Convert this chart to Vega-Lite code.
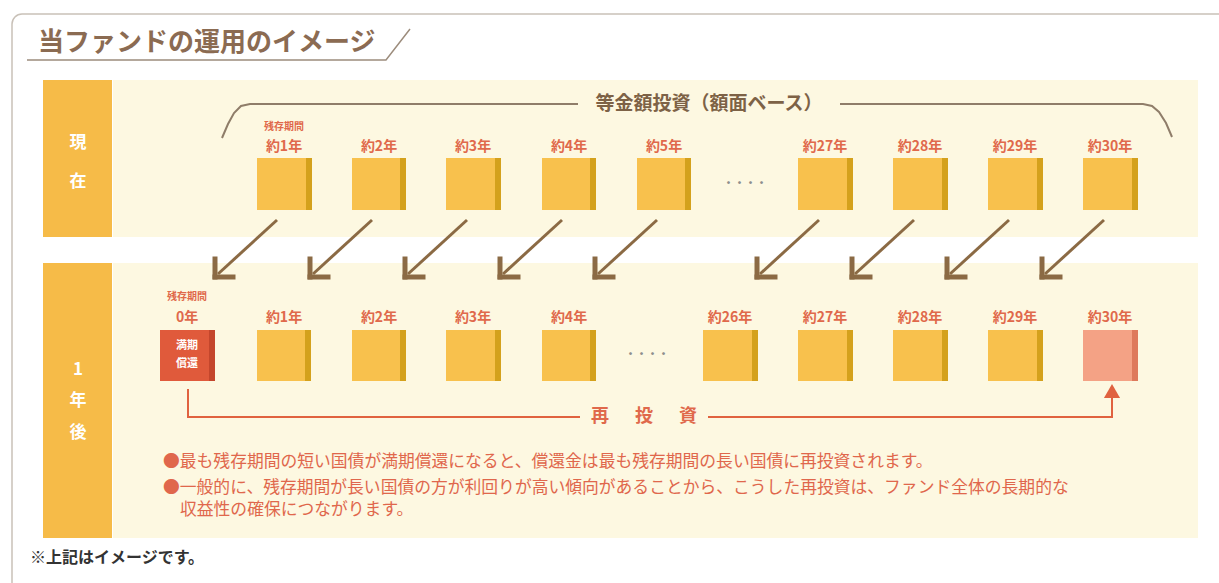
{
  "$schema": "https://vega.github.io/schema/vega-lite/v6.json",
  "width": 1219,
  "height": 583,
  "autosize": {"type": "fit", "contains": "padding"},
  "padding": 0,
  "background": "white",
  "config": {"view": {"stroke": null}, "text": {"font": "Noto Sans CJK JP"}},
  "datasets": {
    "frame": [{"x": 12, "y": 14, "x2": 1260, "y2": 620}],
    "bg": [{"x": 113, "y": 80, "x2": 1198, "y2": 237}, {"x": 113, "y": 263, "x2": 1198, "y2": 538}],
    "rowbox": [{"x": 43, "y": 80, "x2": 112, "y2": 237}, {"x": 43, "y": 263, "x2": 112, "y2": 538}],
    "rowText": [
      {"x": 78, "y": 143, "t": "現"}, {"x": 78, "y": 182, "t": "在"},
      {"x": 78, "y": 370, "t": "1"}, {"x": 78, "y": 401, "t": "年"}, {"x": 78, "y": 433, "t": "後"}
    ],
    "boxes": [
      {"row": "現在", "label": "約1年", "x": 257, "x2": 312, "cx": 284, "y": 158, "y2": 210, "ly": 147, "kind": "normal"},
      {"row": "現在", "label": "約2年", "x": 352, "x2": 406, "cx": 379, "y": 158, "y2": 210, "ly": 147, "kind": "normal"},
      {"row": "現在", "label": "約3年", "x": 446, "x2": 501, "cx": 473, "y": 158, "y2": 210, "ly": 147, "kind": "normal"},
      {"row": "現在", "label": "約4年", "x": 542, "x2": 596, "cx": 569, "y": 158, "y2": 210, "ly": 147, "kind": "normal"},
      {"row": "現在", "label": "約5年", "x": 637, "x2": 691, "cx": 664, "y": 158, "y2": 210, "ly": 147, "kind": "normal"},
      {"row": "現在", "label": "約27年", "x": 798, "x2": 853, "cx": 825, "y": 158, "y2": 210, "ly": 147, "kind": "normal"},
      {"row": "現在", "label": "約28年", "x": 893, "x2": 948, "cx": 920, "y": 158, "y2": 210, "ly": 147, "kind": "normal"},
      {"row": "現在", "label": "約29年", "x": 988, "x2": 1043, "cx": 1015, "y": 158, "y2": 210, "ly": 147, "kind": "normal"},
      {"row": "現在", "label": "約30年", "x": 1083, "x2": 1138, "cx": 1110, "y": 158, "y2": 210, "ly": 147, "kind": "normal"},
      {"row": "1年後", "label": "0年", "x": 160, "x2": 215, "cx": 187, "y": 330, "y2": 381, "ly": 318, "kind": "mature"},
      {"row": "1年後", "label": "約1年", "x": 257, "x2": 311, "cx": 284, "y": 330, "y2": 381, "ly": 318, "kind": "normal"},
      {"row": "1年後", "label": "約2年", "x": 352, "x2": 406, "cx": 379, "y": 330, "y2": 381, "ly": 318, "kind": "normal"},
      {"row": "1年後", "label": "約3年", "x": 446, "x2": 501, "cx": 473, "y": 330, "y2": 381, "ly": 318, "kind": "normal"},
      {"row": "1年後", "label": "約4年", "x": 542, "x2": 596, "cx": 569, "y": 330, "y2": 381, "ly": 318, "kind": "normal"},
      {"row": "1年後", "label": "約26年", "x": 703, "x2": 758, "cx": 730, "y": 330, "y2": 381, "ly": 318, "kind": "normal"},
      {"row": "1年後", "label": "約27年", "x": 798, "x2": 853, "cx": 825, "y": 330, "y2": 381, "ly": 318, "kind": "normal"},
      {"row": "1年後", "label": "約28年", "x": 893, "x2": 948, "cx": 920, "y": 330, "y2": 381, "ly": 318, "kind": "normal"},
      {"row": "1年後", "label": "約29年", "x": 988, "x2": 1043, "cx": 1015, "y": 330, "y2": 381, "ly": 318, "kind": "normal"},
      {"row": "1年後", "label": "約30年", "x": 1083, "x2": 1138, "cx": 1110, "y": 330, "y2": 381, "ly": 318, "kind": "new"}
    ],
    "smallLabels": [{"x": 284, "y": 127, "t": "残存期間"}, {"x": 187, "y": 297, "t": "残存期間"}],
    "boxText": [{"x": 187, "y": 346, "t": "満期"}, {"x": 187, "y": 364, "t": "償還"}],
    "dots": [{"x": 745, "y": 184, "t": "・・・・"}, {"x": 647, "y": 355, "t": "・・・・"}],
    "arrowShaft": [
      {"x": 277, "y": 220, "x2": 218, "y2": 274}, {"x": 372, "y": 220, "x2": 313, "y2": 274},
      {"x": 467, "y": 220, "x2": 408, "y2": 274}, {"x": 562, "y": 220, "x2": 503, "y2": 274},
      {"x": 657, "y": 220, "x2": 598, "y2": 274}, {"x": 819, "y": 220, "x2": 760, "y2": 274},
      {"x": 914, "y": 220, "x2": 855, "y2": 274}, {"x": 1009, "y": 220, "x2": 950, "y2": 274},
      {"x": 1104, "y": 220, "x2": 1045, "y2": 274}
    ],
    "arrowHead": [
      {"x": 215, "y": 277, "x2": 215, "y2": 259}, {"x": 215, "y": 277, "x2": 233, "y2": 277},
      {"x": 310, "y": 277, "x2": 310, "y2": 259}, {"x": 310, "y": 277, "x2": 328, "y2": 277},
      {"x": 405, "y": 277, "x2": 405, "y2": 259}, {"x": 405, "y": 277, "x2": 423, "y2": 277},
      {"x": 500, "y": 277, "x2": 500, "y2": 259}, {"x": 500, "y": 277, "x2": 518, "y2": 277},
      {"x": 595, "y": 277, "x2": 595, "y2": 259}, {"x": 595, "y": 277, "x2": 613, "y2": 277},
      {"x": 757, "y": 277, "x2": 757, "y2": 259}, {"x": 757, "y": 277, "x2": 775, "y2": 277},
      {"x": 852, "y": 277, "x2": 852, "y2": 259}, {"x": 852, "y": 277, "x2": 870, "y2": 277},
      {"x": 947, "y": 277, "x2": 947, "y2": 259}, {"x": 947, "y": 277, "x2": 965, "y2": 277},
      {"x": 1042, "y": 277, "x2": 1042, "y2": 259}, {"x": 1042, "y": 277, "x2": 1060, "y2": 277}
    ],
    "bracket": [
      {"seg": "L", "o": 1, "x": 222, "y": 138}, {"seg": "L", "o": 2, "x": 228, "y": 124},
      {"seg": "L", "o": 3, "x": 234, "y": 113}, {"seg": "L", "o": 4, "x": 241, "y": 106},
      {"seg": "L", "o": 5, "x": 250, "y": 104}, {"seg": "L", "o": 6, "x": 578, "y": 104},
      {"seg": "R", "o": 1, "x": 840, "y": 104}, {"seg": "R", "o": 2, "x": 1143, "y": 104},
      {"seg": "R", "o": 3, "x": 1152, "y": 106}, {"seg": "R", "o": 4, "x": 1159, "y": 112},
      {"seg": "R", "o": 5, "x": 1166, "y": 123}, {"seg": "R", "o": 6, "x": 1172, "y": 137}
    ],
    "bracketText": [{"x": 709, "y": 104, "t": "等金額投資（額面ベース）"}],
    "reinvest": [
      {"seg": "A", "o": 1, "x": 188, "y": 389}, {"seg": "A", "o": 2, "x": 188, "y": 417}, {"seg": "A", "o": 3, "x": 580, "y": 417},
      {"seg": "B", "o": 1, "x": 708, "y": 417}, {"seg": "B", "o": 2, "x": 1112, "y": 417}, {"seg": "B", "o": 3, "x": 1112, "y": 396}
    ],
    "reinvestHead": [{"x": 1112, "y": 391}],
    "reinvestText": [{"x": 600, "y": 417, "t": "再"}, {"x": 644, "y": 417, "t": "投"}, {"x": 688, "y": 417, "t": "資"}],
    "notes": [
      {"x": 163, "y": 462, "t": "●最も残存期間の短い国債が満期償還になると、償還金は最も残存期間の長い国債に再投資されます。"},
      {"x": 163, "y": 488, "t": "●一般的に、残存期間が長い国債の方が利回りが高い傾向があることから、こうした再投資は、ファンド全体の長期的な"},
      {"x": 180, "y": 510, "t": "収益性の確保につながります。"}
    ],
    "footnote": [{"x": 30, "y": 558, "t": "※上記はイメージです。"}],
    "title": [{"x": 38, "y": 43, "t": "当ファンドの運用のイメージ"}],
    "titleLine": [{"o": 1, "x": 27, "y": 60}, {"o": 2, "x": 386, "y": 60}, {"o": 3, "x": 410, "y": 29}]
  },
  "layer": [
    {
      "data": {"name": "frame"},
      "mark": {"type": "rect", "fill": null, "stroke": "#c9c1b8", "strokeWidth": 1.5, "cornerRadius": 10, "clip": true},
      "encoding": {
        "x": {"field": "x", "type": "quantitative", "scale": {"domain": [0, 1219], "nice": false, "zero": false}, "axis": null},
        "x2": {"field": "x2"},
        "y": {"field": "y", "type": "quantitative", "scale": {"domain": [0, 583], "nice": false, "zero": false, "reverse": true}, "axis": null},
        "y2": {"field": "y2"}
      }
    },
    {
      "data": {"name": "bg"},
      "mark": {"type": "rect", "fill": "#fdf8e1"},
      "encoding": {
        "x": {"field": "x", "type": "quantitative", "axis": null}, "x2": {"field": "x2"},
        "y": {"field": "y", "type": "quantitative", "axis": null}, "y2": {"field": "y2"}
      }
    },
    {
      "data": {"name": "rowbox"},
      "mark": {"type": "rect", "fill": "#f6bb48"},
      "encoding": {
        "x": {"field": "x", "type": "quantitative", "axis": null}, "x2": {"field": "x2"},
        "y": {"field": "y", "type": "quantitative", "axis": null}, "y2": {"field": "y2"}
      }
    },
    {
      "data": {"name": "rowText"},
      "mark": {"type": "text", "color": "white", "fontSize": 17, "fontWeight": "bold", "baseline": "middle", "align": "center"},
      "encoding": {
        "x": {"field": "x", "type": "quantitative", "axis": null},
        "y": {"field": "y", "type": "quantitative", "axis": null},
        "text": {"field": "t"}
      }
    },
    {
      "data": {"name": "titleLine"},
      "mark": {"type": "line", "color": "#9c8c7c", "strokeWidth": 1.5},
      "encoding": {
        "x": {"field": "x", "type": "quantitative", "axis": null},
        "y": {"field": "y", "type": "quantitative", "axis": null},
        "order": {"field": "o"}
      }
    },
    {
      "data": {"name": "title"},
      "mark": {"type": "text", "color": "#8b6b52", "fontSize": 26, "fontWeight": "bold", "baseline": "middle", "align": "left"},
      "encoding": {
        "x": {"field": "x", "type": "quantitative", "axis": null},
        "y": {"field": "y", "type": "quantitative", "axis": null},
        "text": {"field": "t"}
      }
    },
    {
      "data": {"name": "bracket"},
      "mark": {"type": "line", "color": "#8f7d69", "strokeWidth": 2},
      "encoding": {
        "x": {"field": "x", "type": "quantitative", "axis": null},
        "y": {"field": "y", "type": "quantitative", "axis": null},
        "detail": {"field": "seg"},
        "order": {"field": "o"}
      }
    },
    {
      "data": {"name": "bracketText"},
      "mark": {"type": "text", "color": "#7d6246", "fontSize": 19, "fontWeight": "bold", "baseline": "middle", "align": "center"},
      "encoding": {
        "x": {"field": "x", "type": "quantitative", "axis": null},
        "y": {"field": "y", "type": "quantitative", "axis": null},
        "text": {"field": "t"}
      }
    },
    {
      "data": {"name": "boxes"},
      "mark": {"type": "rect"},
      "encoding": {
        "x": {"field": "x", "type": "quantitative", "axis": null}, "x2": {"field": "x2"},
        "y": {"field": "y", "type": "quantitative", "axis": null}, "y2": {"field": "y2"},
        "color": {"field": "kind", "type": "nominal", "legend": null,
          "scale": {"domain": ["normal", "mature", "new"], "range": ["#f8c14d", "#e05a3b", "#f4a285"]}}
      }
    },
    {
      "data": {"name": "boxes"},
      "mark": {"type": "rect", "xOffset": -6},
      "encoding": {
        "x": {"field": "x2", "type": "quantitative", "axis": null}, "x2": {"field": "x2"},
        "y": {"field": "y", "type": "quantitative", "axis": null}, "y2": {"field": "y2"},
        "fill": {"field": "kind", "type": "nominal", "legend": null,
          "scale": {"domain": ["normal", "mature", "new"], "range": ["#d4a11c", "#c4462c", "#de7a5c"]}}
      }
    },
    {
      "data": {"name": "boxes"},
      "mark": {"type": "text", "color": "#e0694b", "fontSize": 14, "fontWeight": "bold", "baseline": "middle", "align": "center"},
      "encoding": {
        "x": {"field": "cx", "type": "quantitative", "axis": null},
        "y": {"field": "ly", "type": "quantitative", "axis": null},
        "text": {"field": "label"}
      }
    },
    {
      "data": {"name": "smallLabels"},
      "mark": {"type": "text", "color": "#e0694b", "fontSize": 10, "fontWeight": "bold", "baseline": "middle", "align": "center"},
      "encoding": {
        "x": {"field": "x", "type": "quantitative", "axis": null},
        "y": {"field": "y", "type": "quantitative", "axis": null},
        "text": {"field": "t"}
      }
    },
    {
      "data": {"name": "boxText"},
      "mark": {"type": "text", "color": "white", "fontSize": 11, "fontWeight": "bold", "baseline": "middle", "align": "center"},
      "encoding": {
        "x": {"field": "x", "type": "quantitative", "axis": null},
        "y": {"field": "y", "type": "quantitative", "axis": null},
        "text": {"field": "t"}
      }
    },
    {
      "data": {"name": "dots"},
      "mark": {"type": "text", "color": "#8e8e8e", "fontSize": 11, "fontWeight": "bold", "baseline": "middle", "align": "center"},
      "encoding": {
        "x": {"field": "x", "type": "quantitative", "axis": null},
        "y": {"field": "y", "type": "quantitative", "axis": null},
        "text": {"field": "t"}
      }
    },
    {
      "data": {"name": "arrowShaft"},
      "mark": {"type": "rule", "color": "#8b6a44", "strokeWidth": 3},
      "encoding": {
        "x": {"field": "x", "type": "quantitative", "axis": null}, "x2": {"field": "x2"},
        "y": {"field": "y", "type": "quantitative", "axis": null}, "y2": {"field": "y2"}
      }
    },
    {
      "data": {"name": "arrowHead"},
      "mark": {"type": "rule", "color": "#8b6a44", "strokeWidth": 5, "strokeCap": "square"},
      "encoding": {
        "x": {"field": "x", "type": "quantitative", "axis": null}, "x2": {"field": "x2"},
        "y": {"field": "y", "type": "quantitative", "axis": null}, "y2": {"field": "y2"}
      }
    },
    {
      "data": {"name": "reinvest"},
      "mark": {"type": "line", "color": "#e0623f", "strokeWidth": 2},
      "encoding": {
        "x": {"field": "x", "type": "quantitative", "axis": null},
        "y": {"field": "y", "type": "quantitative", "axis": null},
        "detail": {"field": "seg"},
        "order": {"field": "o"}
      }
    },
    {
      "data": {"name": "reinvestHead"},
      "mark": {"type": "point", "shape": "triangle-up", "filled": true, "color": "#e0623f", "size": 260, "opacity": 1},
      "encoding": {
        "x": {"field": "x", "type": "quantitative", "axis": null},
        "y": {"field": "y", "type": "quantitative", "axis": null}
      }
    },
    {
      "data": {"name": "reinvestText"},
      "mark": {"type": "text", "color": "#e0694b", "fontSize": 18, "fontWeight": "bold", "baseline": "middle", "align": "center"},
      "encoding": {
        "x": {"field": "x", "type": "quantitative", "axis": null},
        "y": {"field": "y", "type": "quantitative", "axis": null},
        "text": {"field": "t"}
      }
    },
    {
      "data": {"name": "notes"},
      "mark": {"type": "text", "color": "#e0674c", "fontSize": 16.8, "baseline": "middle", "align": "left"},
      "encoding": {
        "x": {"field": "x", "type": "quantitative", "axis": null},
        "y": {"field": "y", "type": "quantitative", "axis": null},
        "text": {"field": "t"}
      }
    },
    {
      "data": {"name": "footnote"},
      "mark": {"type": "text", "color": "#333333", "fontSize": 16, "fontWeight": "bold", "baseline": "middle", "align": "left"},
      "encoding": {
        "x": {"field": "x", "type": "quantitative", "axis": null},
        "y": {"field": "y", "type": "quantitative", "axis": null},
        "text": {"field": "t"}
      }
    }
  ]
}
